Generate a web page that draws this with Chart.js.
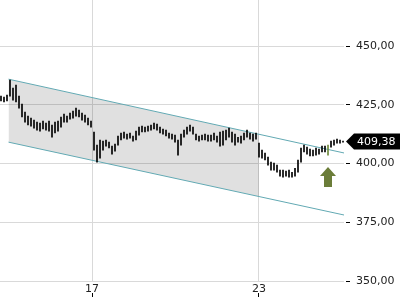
<!DOCTYPE html>
<html>
<head>
<meta charset="utf-8">
<script src="https://cdn.jsdelivr.net/npm/chart.js@4/dist/chart.umd.min.js"></script>
<style>
  html, body { margin: 0; padding: 0; background: #fff; }
  #wrap { width: 400px; height: 300px; }
</style>
</head>
<body>
<div id="wrap"><canvas id="chart" width="400" height="300"></canvas></div>
<script>
// axis ticks
const xTicks = [17, 23];
const yTicks = [350, 375, 400, 425, 450];

// intraday bars (high / low), evenly spaced in time
const barStart = 13.73;
const barStep = 0.1078;
const barHigh = [
  428.7, 428.3, 429.1, 435.5, 432.1, 433.4, 428.7, 425.3, 421.9, 420.2,
  419.3, 418.5, 417.6, 417.2, 418.1, 417.2, 418.1, 416.4, 417.6, 418.1,
  419.8, 421.0, 420.2, 421.5, 422.3, 423.6, 422.7, 421.5, 420.6, 419.3,
  418.1, 413.4, 407.8, 410.0, 409.5, 410.0, 409.1, 407.4, 408.3, 411.7,
  413.0, 413.4, 412.5, 413.0, 411.7, 413.8, 415.5, 415.9, 415.5, 415.9,
  416.4, 417.2, 416.8, 415.5, 414.7, 414.2, 413.0, 412.5, 412.1, 410.0,
  412.5, 414.2, 415.5, 416.4, 415.5, 412.5, 411.7, 412.1, 412.5, 412.1,
  412.1, 413.0, 411.7, 413.4, 413.8, 414.2, 415.1, 413.4, 412.5, 411.2,
  411.7, 413.0, 414.2, 413.0, 412.5, 413.0, 408.7, 405.7, 404.4, 402.7,
  400.6, 400.2, 399.3, 397.2, 397.2, 396.8, 397.2, 396.3, 398.0, 401.5,
  406.6, 407.8, 407.0, 406.1, 405.7, 406.6, 406.1, 407.4, 407.4, 407.8,
  409.5, 410.0, 410.4, 410.0, 409.5
];
const barLow = [
  426.6, 426.2, 426.6, 428.7, 427.0, 426.2, 423.6, 419.8, 417.6, 416.4,
  415.9, 415.1, 414.2, 413.8, 414.7, 414.2, 413.8, 411.2, 413.0, 413.8,
  415.5, 417.6, 417.6, 418.9, 419.3, 420.2, 419.8, 418.5, 417.6, 416.4,
  415.5, 405.7, 400.6, 402.3, 405.7, 407.4, 406.6, 404.0, 405.3, 407.8,
  410.0, 410.8, 410.4, 410.8, 409.5, 410.0, 412.1, 413.4, 413.4, 413.8,
  414.2, 414.7, 414.2, 413.0, 412.5, 411.7, 410.8, 410.4, 409.1, 403.6,
  407.8, 411.2, 412.5, 413.8, 412.5, 410.0, 409.5, 410.0, 410.0, 409.5,
  409.5, 410.0, 409.1, 407.4, 407.8, 410.0, 411.2, 409.1, 407.8, 409.1,
  408.7, 410.0, 411.2, 410.4, 409.5, 410.4, 402.7, 402.3, 401.5, 399.3,
  397.2, 397.2, 396.3, 394.6, 394.2, 394.6, 394.2, 394.2, 394.6, 396.3,
  400.6, 404.9, 404.0, 403.2, 403.2, 403.6, 404.0, 404.9, 404.9, 403.6,
  407.0, 407.8, 408.7, 408.7, 409.1
];
const greenBar = 109;

// trend channel
const channelDays = [14, 26.09];
const channelUpper = [435.9, 404.4];
const channelLower = [409.1, 378.0];
const shadeDays = [14, 23];
const shadeUpper = [435.9, 412.5];
const shadeLower = [409.1, 386.0];

const lastPrice = 409.38;

const fmt = v => v.toFixed(2).replace('.', ',');
const pts = (xs, ys) => xs.map((x, i) => ({ x, y: ys[i] }));
const bars = barHigh.map((h, i) => ({ x: barStart + i * barStep, y: [barLow[i], h] }));

const noPad = s => { s.paddingTop = 0; s.paddingBottom = 0; s.paddingLeft = 0; s.paddingRight = 0; };

// price tag + arrow
const extras = {
  id: 'extras',
  afterDraw(chart) {
    const { ctx, scales: { x, y } } = chart;
    const py = Math.round(y.getPixelForValue(lastPrice)) + 0.5;
    ctx.save();
    ctx.fillStyle = '#000';
    ctx.beginPath();
    ctx.moveTo(346, py);
    ctx.lineTo(354, py - 8);
    ctx.lineTo(400, py - 8);
    ctx.lineTo(400, py + 8);
    ctx.lineTo(354, py + 8);
    ctx.closePath();
    ctx.fill();
    ctx.fillStyle = '#fff';
    ctx.font = '11px "DejaVu Sans"';
    ctx.textBaseline = 'middle';
    ctx.textAlign = 'left';
    ctx.fillText(fmt(lastPrice), 357, py + 1);

    // up arrow under the marked bar
    const ax = Math.round(x.getPixelForValue(barStart + greenBar * barStep));
    const top = Math.round(y.getPixelForValue(barLow[greenBar])) + 12;
    ctx.fillStyle = '#6b7d39';
    ctx.beginPath();
    ctx.moveTo(ax, top);
    ctx.lineTo(ax + 8, top + 9);
    ctx.lineTo(ax + 4, top + 9);
    ctx.lineTo(ax + 4, top + 20);
    ctx.lineTo(ax - 4, top + 20);
    ctx.lineTo(ax - 4, top + 9);
    ctx.lineTo(ax - 8, top + 9);
    ctx.closePath();
    ctx.fill();
    ctx.restore();
  }
};

new Chart(document.getElementById('chart'), {
  type: 'bar',
  data: {
    datasets: [
      {
        type: 'line', data: pts(shadeDays, shadeUpper), fill: '+1',
        backgroundColor: 'rgba(0,0,0,0.12)', borderWidth: 0, pointRadius: 0, order: 5
      },
      {
        type: 'line', data: pts(shadeDays, shadeLower), fill: false,
        borderWidth: 0, pointRadius: 0, order: 6
      },
      {
        type: 'line', data: pts(channelDays, channelUpper), fill: false,
        borderColor: '#62a9b3', borderWidth: 1, pointRadius: 0, order: 3
      },
      {
        type: 'line', data: pts(channelDays, channelLower), fill: false,
        borderColor: '#62a9b3', borderWidth: 1, pointRadius: 0, order: 3
      },
      {
        data: bars,
        backgroundColor: bars.map((b, i) => i === greenBar ? '#6f8a3c' : '#000'),
        barThickness: 1, grouped: false, order: 1
      }
    ]
  },
  options: {
    responsive: false,
    animation: false,
    layout: { padding: 0 },
    plugins: { legend: { display: false }, tooltip: { enabled: false } },
    scales: {
      x: {
        type: 'linear', min: 13.694, max: 26.055, offset: false,
        border: { display: false },
        grid: {
          color: '#d9d9d9', offset: false, tickLength: 16,
          tickColor: '#000', tickBorderDash: [0, 12, 4, 40]
        },
        afterBuildTicks: s => { s.ticks = xTicks.map(v => ({ value: v })); },
        afterFit: s => { s.height = 19; noPad(s); },
        ticks: {
          padding: -14, maxRotation: 0, autoSkip: false,
          color: '#222', font: { family: 'DejaVu Sans', size: 11 },
          callback: v => String(v)
        }
      },
      y: {
        position: 'right', min: 350, max: 469.6,
        border: { display: false },
        grid: {
          color: '#d9d9d9', tickLength: 6,
          tickColor: '#000', tickBorderDash: [0, 2, 4, 20]
        },
        afterBuildTicks: s => { s.ticks = yTicks.map(v => ({ value: v })); },
        afterFit: s => { s.width = 56; noPad(s); },
        ticks: {
          padding: 6, color: '#222', font: { family: 'DejaVu Sans', size: 11 },
          callback: v => fmt(v)
        }
      }
    }
  },
  plugins: [extras]
});
</script>
</body>
</html>
